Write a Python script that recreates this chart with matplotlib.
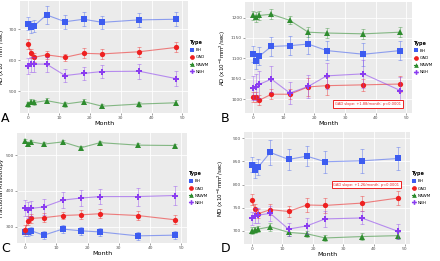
import matplotlib
matplotlib.use("Agg")
import matplotlib.pyplot as plt
from matplotlib.lines import Line2D

MONTHS = [0, 1, 2, 6, 12, 18, 24, 36, 48]
TYPES = ["BH", "GAD", "NAWM", "NBH"]

# panel A: RD
RD_BH = [718, 707, 711, 746, 724, 732, 722, 730, 732]
RD_GAD = [652, 622, 609, 617, 609, 622, 620, 627, 641]
RD_NAWM = [458, 465, 463, 469, 458, 466, 451, 458, 462]
RD_NBH = [581, 587, 587, 587, 550, 557, 563, 564, 540]
RD_ERR = {"BH": [20, 20, 20, 28, 22, 22, 22, 22, 22], "GAD": [16, 14, 14, 14, 12, 16, 16, 16, 16],
          "NAWM": [8, 8, 8, 8, 8, 8, 6, 8, 8], "NBH": [26, 24, 24, 24, 22, 22, 22, 24, 24]}

# panel B: AD
AD_BH = [1110, 1093, 1105, 1129, 1131, 1135, 1119, 1110, 1119]
AD_GAD = [1005, 1006, 997, 1012, 1012, 1030, 1033, 1035, 1037]
AD_NAWM = [1205, 1201, 1205, 1208, 1193, 1164, 1162, 1160, 1164]
AD_NBH = [1027, 1029, 1036, 1049, 1015, 1031, 1057, 1062, 1021]
AD_ERR = {"BH": [20, 20, 22, 24, 24, 24, 24, 28, 24], "GAD": [12, 12, 12, 12, 12, 22, 22, 14, 20],
          "NAWM": [10, 12, 12, 12, 10, 12, 12, 12, 12], "NBH": [30, 32, 34, 32, 28, 28, 32, 34, 34]}

# panel C: FA
FA_BH = [284, 284, 288, 276, 293, 288, 285, 274, 276]
FA_GAD = [291, 317, 323, 325, 331, 333, 336, 331, 319]
FA_NAWM = [540, 532, 537, 531, 537, 521, 535, 528, 527]
FA_NBH = [352, 346, 351, 355, 374, 380, 384, 384, 387]
FA_ERR = {"BH": [11, 11, 11, 11, 11, 11, 11, 11, 11], "GAD": [13, 13, 13, 13, 11, 13, 13, 13, 13],
          "NAWM": [5, 5, 5, 5, 5, 5, 5, 5, 5], "NBH": [23, 23, 22, 22, 22, 23, 22, 25, 26]}

# panel D: MD
MD_BH = [843, 831, 837, 869, 854, 861, 849, 851, 856]
MD_GAD = [767, 748, 737, 746, 742, 756, 755, 760, 771]
MD_NAWM = [701, 702, 704, 709, 697, 694, 685, 688, 690]
MD_NBH = [727, 733, 734, 738, 704, 711, 726, 728, 699]
MD_ERR = {"BH": [17, 17, 17, 26, 22, 22, 24, 26, 24], "GAD": [12, 10, 10, 12, 12, 16, 16, 16, 16],
          "NAWM": [7, 7, 7, 8, 7, 7, 7, 7, 7], "NBH": [14, 16, 16, 16, 14, 18, 18, 14, 16]}

COL = {"BH": "#3d5cf0", "GAD": "#ee2020", "NAWM": "#2e8c2e", "NBH": "#8a3cf0"}
MRK = {"BH": "s", "GAD": "o", "NAWM": "^", "NBH": "P"}
BG = "#ebebeb"
FS = 3.2
W, H = 440, 261

fig = plt.figure(figsize=(4.4, 2.61), dpi=100)


def px(x0, y0, x1, y1):
    # pixel box (left, top, right, bottom) -> figure rect
    return [x0 / W, 1 - y1 / H, (x1 - x0) / W, (y1 - y0) / H]


def panel(rect, series, errs, ylim, yticks, ylabel, letter, lpos, ylab_x, note=None):
    ax = fig.add_axes(rect)
    ax.set_facecolor(BG)
    for sp in ax.spines.values():
        sp.set_visible(False)
    ax.grid(True, color="white", lw=0.6)
    ax.set_axisbelow(True)
    for t in TYPES:
        y = series[t]
        ax.errorbar(MONTHS, y, yerr=errs[t], color=COL[t], alpha=0.45, lw=0.6,
                    capsize=1.6, capthick=0.6, fmt="none")
        ax.plot(MONTHS, y, color=COL[t], alpha=0.55, lw=0.8)
        ax.plot(MONTHS, y, ls="none", marker=MRK[t], color=COL[t], ms=3.8, mew=0)
    ax.set_xlim(-2.6, 51.8)
    ax.set_ylim(*ylim)
    ax.set_xticks([0, 10, 20, 30, 40, 50])
    ax.set_yticks(yticks)
    ax.tick_params(labelsize=FS, length=1.5, width=0.4, color="#555555", labelcolor="#555555", pad=0.6)
    ax.set_xlabel("Month", fontsize=4.6, labelpad=1)
    ax.set_ylabel(ylabel, fontsize=4.0)
    ax.yaxis.set_label_coords(ylab_x, rect[1] + rect[3] / 2, transform=fig.transFigure)
    handles = [Line2D([0], [0], color=COL[t], lw=0.8, marker=MRK[t], ms=3.4, mew=0) for t in TYPES]
    leg = ax.legend(handles, TYPES, title="Type", loc="center left", bbox_to_anchor=(1.005, 0.5),
                    fontsize=3.0, title_fontsize=3.6, frameon=False, handlelength=0.9,
                    handletextpad=0.5, labelspacing=0.75, borderaxespad=0.1, borderpad=0.1)
    leg.get_title().set_fontweight("bold")
    leg._legend_box.align = "left"
    fig.text(lpos[0] / W, 1 - lpos[1] / H, letter, fontsize=9, ha="left", va="top")
    if note:
        ax.text(note[0], note[1], note[2], fontsize=2.6, color="#ee2020", ha="center", va="center",
                bbox=dict(boxstyle="square,pad=0.5", fc="white", ec="#ee2020", lw=0.7))
    return ax


panel(px(20, 1, 188, 113),
      {"BH": RD_BH, "GAD": RD_GAD, "NAWM": RD_NAWM, "NBH": RD_NBH}, RD_ERR,
      (429, 791), [500, 600, 700], "RD (x10$^{-6}$mm$^{2}$/sec)", "A", (1, 112), 7.5 / W)
panel(px(245, 2, 412, 113),
      {"BH": AD_BH, "GAD": AD_GAD, "NAWM": AD_NAWM, "NBH": AD_NBH}, AD_ERR,
      (966, 1238), [1000, 1050, 1100, 1150, 1200], "AD (x10$^{-6}$mm$^{2}$/sec)", "B", (221, 112),
      228 / W, note=(37.5, 988, "GAD slope: +1.88/month; p<0.0001"))
panel(px(17, 133, 187, 243),
      {"BH": FA_BH, "GAD": FA_GAD, "NAWM": FA_NAWM, "NBH": FA_NBH}, FA_ERR,
      (254, 562), [300, 400, 500], "Fractional Anisotropy", "C", (1, 242), 4.0 / W)
panel(px(244, 132, 410, 244),
      {"BH": MD_BH, "GAD": MD_GAD, "NAWM": MD_NAWM, "NBH": MD_NBH}, MD_ERR,
      (672, 913), [700, 750, 800, 850, 900], "MD (x10$^{-6}$mm$^{2}$/sec)", "D", (221, 242),
      226 / W, note=(37.5, 800, "GAD slope: +1.26/month; p<0.0001"))

fig.savefig("out.png", dpi=100)
